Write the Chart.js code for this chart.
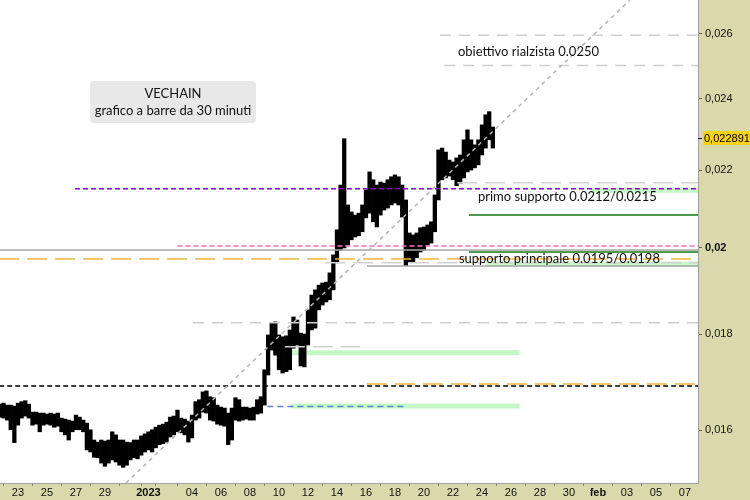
<!DOCTYPE html>
<html>
<head>
<meta charset="utf-8">
<script src="https://cdn.jsdelivr.net/npm/chart.js@4.4.1/dist/chart.umd.min.js"></script>
<style>
  html, body { margin: 0; padding: 0; background: #fff; }
  #wrap { width: 750px; height: 500px; }
</style>
</head>
<body>
<div id="wrap"><canvas id="chart" width="750" height="500"></canvas></div>
<script>
// tempo in giorni dal 23 dicembre 00:00, barre campionate ogni 6 ore
const barStartDay = -1.25;
const barStepDays = 0.25;

const barHigh = [
  0.01652, 0.01654, 0.01650, 0.01650, 0.01648, 0.01654, 0.01657, 0.01659, 0.01652, 0.01636,
  0.01636, 0.01634, 0.01634, 0.01632, 0.01634, 0.01632, 0.01634, 0.01624, 0.01622, 0.01620,
  0.01618, 0.01630, 0.01626, 0.01620, 0.01614, 0.01601, 0.01581, 0.01577, 0.01581, 0.01579,
  0.01581, 0.01597, 0.01591, 0.01581, 0.01581, 0.01577, 0.01576, 0.01581, 0.01581, 0.01589,
  0.01593, 0.01597, 0.01601, 0.01606, 0.01610, 0.01612, 0.01616, 0.01626, 0.01628, 0.01640,
  0.01624, 0.01622, 0.01618, 0.01630, 0.01657, 0.01661, 0.01677, 0.01679, 0.01667, 0.01665,
  0.01650, 0.01646, 0.01644, 0.01634, 0.01644, 0.01665, 0.01661, 0.01646, 0.01646, 0.01644,
  0.01646, 0.01661, 0.01667, 0.01723, 0.01798, 0.01824, 0.01827, 0.01798, 0.01794, 0.01796,
  0.01809, 0.01838, 0.01831, 0.01802, 0.01800, 0.01854, 0.01888, 0.01900, 0.01911, 0.01916,
  0.01918, 0.01940, 0.01983, 0.02045, 0.02160, 0.02286, 0.02108, 0.02090, 0.02082, 0.02087,
  0.02108, 0.02147, 0.02195, 0.02174, 0.02160, 0.02168, 0.02165, 0.02174, 0.02182, 0.02187,
  0.02182, 0.02160, 0.02121, 0.02037, 0.02032, 0.02037, 0.02050, 0.02052, 0.02057, 0.02065,
  0.02134, 0.02255, 0.02260, 0.02249, 0.02227, 0.02222, 0.02233, 0.02241, 0.02283, 0.02311,
  0.02283, 0.02269, 0.02283, 0.02325, 0.02354, 0.02363, 0.02319
];
const barLow = [
  0.01626, 0.01624, 0.01620, 0.01601, 0.01576, 0.01610, 0.01624, 0.01628, 0.01624, 0.01610,
  0.01612, 0.01597, 0.01610, 0.01612, 0.01610, 0.01606, 0.01608, 0.01597, 0.01591, 0.01581,
  0.01597, 0.01601, 0.01601, 0.01597, 0.01562, 0.01558, 0.01548, 0.01547, 0.01537, 0.01531,
  0.01537, 0.01543, 0.01539, 0.01533, 0.01529, 0.01533, 0.01543, 0.01547, 0.01545, 0.01552,
  0.01558, 0.01562, 0.01558, 0.01566, 0.01572, 0.01574, 0.01577, 0.01587, 0.01591, 0.01597,
  0.01595, 0.01591, 0.01577, 0.01585, 0.01620, 0.01624, 0.01636, 0.01634, 0.01620, 0.01618,
  0.01612, 0.01610, 0.01608, 0.01572, 0.01581, 0.01620, 0.01618, 0.01620, 0.01622, 0.01620,
  0.01620, 0.01632, 0.01634, 0.01650, 0.01712, 0.01765, 0.01754, 0.01723, 0.01716, 0.01719,
  0.01723, 0.01769, 0.01776, 0.01731, 0.01729, 0.01776, 0.01809, 0.01813, 0.01854, 0.01865,
  0.01872, 0.01877, 0.01900, 0.01964, 0.01995, 0.02000, 0.02007, 0.02020, 0.02027, 0.02030,
  0.02040, 0.02075, 0.02087, 0.02065, 0.02052, 0.02082, 0.02095, 0.02100, 0.02108, 0.02113,
  0.02108, 0.02077, 0.01957, 0.01966, 0.01966, 0.01976, 0.01990, 0.01995, 0.02007, 0.02012,
  0.02040, 0.02121, 0.02174, 0.02179, 0.02184, 0.02174, 0.02158, 0.02165, 0.02179, 0.02195,
  0.02200, 0.02206, 0.02214, 0.02241, 0.02260, 0.02283, 0.02260
];

const lastPrice = 0.022891;

// asse tempi e prezzi
const xTickDays = [0, 2, 4, 6, 8, 9, 10, 12, 14, 16, 18, 20, 22, 24, 26, 28, 30, 32, 34, 36, 38, 40, 42, 44, 46];
const xTickLabels = ['23', '25', '27', '29', '', '2023', '', '04', '06', '08', '10', '12', '14', '16', '18', '20', '22', '24', '26', '28', '30', 'feb', '03', '05', '07'];
const yTickValues = [0.016, 0.018, 0.02, 0.022, 0.024, 0.026];
const yTickLabels = ['0,016', '0,018', '0,02', '0,022', '0,024', '0,026'];

// livelli orizzontali: prezzo, giorno inizio, giorno fine
const levelPrices = [0.02595, 0.0250, 0.02166, 0.0215, 0.02082, 0.02005, 0.01995, 0.0199, 0.01973, 0.01964, 0.01956, 0.01825, 0.01772, 0.01693, 0.01689, 0.01647];
const levelStart  = [29.1, 29.4, 30.3, 3.93, 31.1, 11.0, -1.3, 31.1, -1.3, 21.2, 24.07, 12.07, 18.4, 24.07, -1.3, 17.2];
const levelEnd    = [47, 47, 47, 47, 47, 47, 47, 47, 46.4, 47, 47, 47, 23.6, 47, 47, 26.6];
const levelKind   = ['grey', 'grey', 'greyshort', 'purple', 'green', 'pink', 'solid', 'green', 'orange', 'greyshort', 'solid', 'grey', 'greyshort', 'orange', 'black', 'blue'];

// zone di supporto (bande verdi)
const zonePrices = [0.02146, 0.01961, 0.01759, 0.01648];
const zoneStart  = [39.5, 32.3, 18.9, 18.8];
const zoneEnd    = [47, 47, 34.6, 34.6];

// trendline
const trendDays   = [7.45, 42.2];
const trendPrices = [0.0150, 0.02709];

const noteTexts  = ['obiettivo rialzista 0.0250', 'primo supporto 0.0212/0.0215', 'supporto principale 0.0195/0.0198'];
const noteDays   = [30.34, 31.72, 30.41];
const notePrices = [0.02542, 0.02129, 0.01973];

const boxLines = ['VECHAIN', 'grafico a barre da 30 minuti'];
const boxDay = 10.69;
const boxPrice = 0.02391;

const kindStyle = {
  grey:      { color: '#cfcfcf', dash: [11, 8], width: 1.5 },
  greyshort: { color: '#d2d2d2', dash: [20, 8], width: 1.5 },
  purple:    { color: '#8a00c8', dash: [5, 3], width: 1.5 },
  green:     { color: '#137a13', dash: [], width: 1.5 },
  pink:      { color: '#ff6ec0', dash: [5, 3], width: 1.5 },
  solid:     { color: '#a6a6a6', dash: [], width: 1.5 },
  orange:    { color: '#f2b440', dash: [20, 8], width: 1.5 },
  black:     { color: '#000000', dash: [5, 3], width: 1.5 },
  blue:      { color: '#5a82dc', dash: [6, 4], width: 1.5 }
};

const datasets = [];

// linee sopra le barre (order basso = disegnato sopra)
datasets.push({
  type: 'line',
  data: trendDays.map((d, i) => ({ x: d, y: trendPrices[i] })),
  borderColor: '#b4b4b4',
  borderWidth: 1.5,
  borderDash: [4, 4],
  pointRadius: 0,
  order: 0
});

levelPrices.forEach((p, i) => {
  const st = kindStyle[levelKind[i]];
  datasets.push({
    type: 'line',
    data: [{ x: levelStart[i], y: p }, { x: levelEnd[i], y: p }],
    borderColor: st.color,
    borderWidth: st.width,
    borderDash: st.dash,
    pointRadius: 0,
    order: 1
  });
});

datasets.push({
  type: 'bar',
  data: barHigh.map((h, i) => ({ x: barStartDay + i * barStepDays, y: [barLow[i], h] })),
  backgroundColor: '#000000',
  borderWidth: 0,
  barPercentage: 1,
  categoryPercentage: 1,
  order: 2
});

zonePrices.forEach((p, i) => {
  datasets.push({
    type: 'line',
    data: [{ x: zoneStart[i], y: p }, { x: zoneEnd[i], y: p }],
    borderColor: '#c6f7c6',
    borderWidth: 5,
    pointRadius: 0,
    order: 3
  });
});

const bgPlugin = {
  id: 'bgPlugin',
  beforeDraw(chart) {
    const { ctx, chartArea } = chart;
    ctx.save();
    ctx.fillStyle = '#d9d9ab';
    ctx.fillRect(0, 0, chart.width, chart.height);
    ctx.fillStyle = '#ffffff';
    ctx.fillRect(chartArea.left, chartArea.top, chartArea.right - chartArea.left, chartArea.bottom - chartArea.top);
    ctx.restore();
  }
};

const notesPlugin = {
  id: 'notesPlugin',
  afterDatasetsDraw(chart) {
    const { ctx } = chart;
    const xs = chart.scales.x, ys = chart.scales.y;
    ctx.save();
    ctx.fillStyle = '#111';
    ctx.font = '13px Lato, "Open Sans", sans-serif';
    ctx.textAlign = 'left';
    ctx.textBaseline = 'middle';
    noteTexts.forEach((t, i) => {
      ctx.fillText(t, xs.getPixelForValue(noteDays[i]), ys.getPixelForValue(notePrices[i]));
    });

    // riquadro titolo
    const cx = xs.getPixelForValue(boxDay), cy = ys.getPixelForValue(boxPrice);
    const w = 166, h = 42;
    ctx.fillStyle = '#e8e8e8';
    ctx.beginPath();
    ctx.roundRect(cx - w / 2, cy - h / 2, w, h, 4);
    ctx.fill();
    ctx.fillStyle = '#111';
    ctx.textAlign = 'center';
    ctx.fillText(boxLines[0], cx, cy - 8);
    ctx.fillText(boxLines[1], cx, cy + 9);

    // etichetta ultimo prezzo
    const py = Math.round(ys.getPixelForValue(lastPrice));
    const ax = chart.chartArea.right;
    ctx.fillStyle = '#f9d21a';
    ctx.fillRect(ax + 5, py - 7, chart.width - ax - 5, 14);
    ctx.fillStyle = '#000';
    ctx.fillRect(ax, py, 4, 1);
    ctx.font = '11px "Liberation Sans", Arial, sans-serif';
    ctx.textAlign = 'left';
    ctx.fillText(yTickLabels.length ? '0,022891' : '', ax + 6, py + 0.5);
    ctx.restore();
  }
};

new Chart(document.getElementById('chart'), {
  type: 'bar',
  data: { datasets: datasets },
  options: {
    responsive: false,
    animation: false,
    devicePixelRatio: 1,
    layout: { padding: 0 },
    plugins: {
      legend: { display: false },
      tooltip: { enabled: false }
    },
    scales: {
      x: {
        type: 'linear',
        min: -1.24,
        max: 46.9,
        offset: false,
        afterBuildTicks: (scale) => { scale.ticks = xTickDays.map(v => ({ value: v })); },
        afterFit: (scale) => { scale.height = 17; scale.paddingLeft = 0; scale.paddingRight = 0; },
        grid: { drawOnChartArea: false, drawTicks: true, tickLength: 3, color: '#808080' },
        border: { display: true, color: '#a0a0a0' },
        ticks: {
          autoSkip: false,
          maxRotation: 0,
          padding: 0,
          color: '#111',
          callback: (v, i) => xTickLabels[i],
          font: (c) => ({
            family: '"Liberation Sans", Arial, sans-serif',
            size: 11,
            weight: (c.tick && (c.tick.value === 9 || c.tick.value === 40)) ? 'bold' : 'normal'
          })
        }
      },
      y: {
        type: 'logarithmic',
        position: 'right',
        min: 0.0150,
        max: 0.02709,
        afterBuildTicks: (scale) => { scale.ticks = yTickValues.map(v => ({ value: v })); },
        afterFit: (scale) => { scale.width = 52; scale.paddingTop = 0; scale.paddingBottom = 0; },
        grid: { drawOnChartArea: false, drawTicks: true, tickLength: 4, color: '#606060' },
        border: { display: true, color: '#a0a0a0' },
        ticks: {
          padding: 3,
          color: '#111',
          callback: (v, i) => yTickLabels[i],
          font: (c) => ({
            family: '"Liberation Sans", Arial, sans-serif',
            size: 11,
            weight: (c.tick && c.tick.value === 0.02) ? 'bold' : 'normal'
          })
        }
      }
    }
  },
  plugins: [bgPlugin, notesPlugin]
});
</script>
</body>
</html>
